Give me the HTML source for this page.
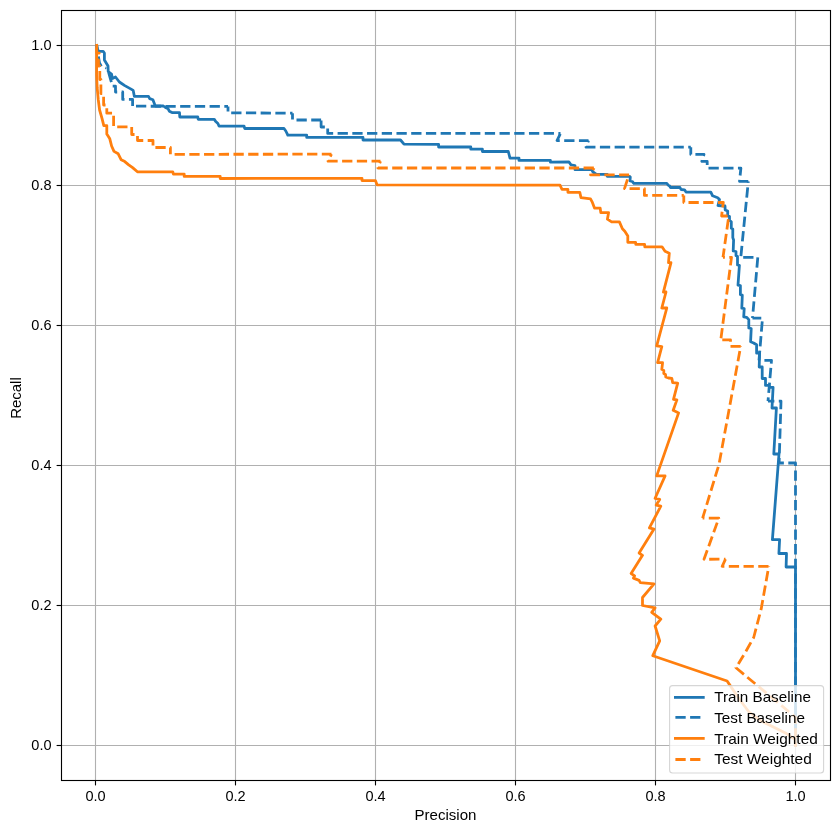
<!DOCTYPE html>
<html><head><meta charset="utf-8"><style>html,body{margin:0;padding:0;background:#fff;overflow:hidden}svg{display:block;will-change:transform}</style></head>
<body><svg width="839" height="833" viewBox="0 0 839 833"><rect x="0" y="0" width="839" height="833" fill="#fff"/>
<line x1="95.5" y1="10.5" x2="95.5" y2="780.5" stroke="#b0b0b0" stroke-width="1.11"/>
<line x1="61.5" y1="745.5" x2="830.5" y2="745.5" stroke="#b0b0b0" stroke-width="1.11"/>
<line x1="235.5" y1="10.5" x2="235.5" y2="780.5" stroke="#b0b0b0" stroke-width="1.11"/>
<line x1="61.5" y1="605.5" x2="830.5" y2="605.5" stroke="#b0b0b0" stroke-width="1.11"/>
<line x1="375.5" y1="10.5" x2="375.5" y2="780.5" stroke="#b0b0b0" stroke-width="1.11"/>
<line x1="61.5" y1="465.5" x2="830.5" y2="465.5" stroke="#b0b0b0" stroke-width="1.11"/>
<line x1="515.5" y1="10.5" x2="515.5" y2="780.5" stroke="#b0b0b0" stroke-width="1.11"/>
<line x1="61.5" y1="325.49999999999994" x2="830.5" y2="325.49999999999994" stroke="#b0b0b0" stroke-width="1.11"/>
<line x1="655.5" y1="10.5" x2="655.5" y2="780.5" stroke="#b0b0b0" stroke-width="1.11"/>
<line x1="61.5" y1="185.5" x2="830.5" y2="185.5" stroke="#b0b0b0" stroke-width="1.11"/>
<line x1="795.5" y1="10.5" x2="795.5" y2="780.5" stroke="#b0b0b0" stroke-width="1.11"/>
<line x1="61.5" y1="45.5" x2="830.5" y2="45.5" stroke="#b0b0b0" stroke-width="1.11"/>
<path d="M96.7,45.5 L97.8,50.0 L99.0,51.4 L103.2,51.4 L104.4,53.0 L104.4,60.0 L106.2,63.0 L108.0,66.0 L108.2,71.5 L111.5,74.0 L112.5,78.5 L115.5,77.0 L119.4,82.0 L124.8,85.6 L130.2,88.6 L133.2,90.4 L134.4,96.4 L148.5,96.4 L149.7,98.6 L152.9,99.8 L154.9,105.0 L155.5,106.0 L163.4,106.0 L165.4,107.5 L168.0,108.6 L169.3,111.2 L172.0,112.6 L179.5,112.6 L179.8,117.0 L197.8,117.0 L198.2,119.3 L214.3,119.3 L215.5,121.3 L217.9,123.5 L219.1,126.2 L244.1,126.2 L244.7,128.5 L284.0,128.5 L285.8,131.0 L287.6,134.6 L287.8,135.2 L306.7,135.2 L306.7,137.4 L363.0,137.4 L363.0,140.0 L400.5,140.0 L404.0,144.2 L438.6,144.3 L438.6,147.0 L470.8,147.0 L470.8,149.2 L482.4,149.2 L482.4,151.5 L508.3,151.5 L510.0,158.1 L519.0,158.1 L519.0,160.4 L550.4,160.4 L550.4,162.2 L569.0,162.0 L571.0,164.9 L575.0,165.5 L575.0,169.7 L591.7,169.7 L593.0,172.0 L596.5,174.4 L607.2,174.4 L607.2,176.3 L629.5,176.3 L630.3,177.0 L630.0,181.0 L632.3,181.5 L633.8,183.3 L666.8,183.4 L668.5,185.5 L669.5,185.8 L670.5,187.5 L680.0,187.5 L681.0,189.5 L684.5,189.8 L686.0,192.1 L710.8,192.1 L712.6,195.8 L717.7,197.7 L719.5,199.5 L718.0,205.5 L725.0,206.0 L725.2,210.0 L727.7,211.0 L727.7,216.0 L729.5,216.3 L729.5,220.3 L731.3,221.8 L731.3,228.3 L732.8,229.0 L732.8,237.6 L733.6,240.0 L733.2,251.0 L736.0,251.5 L736.0,255.8 L737.5,256.3 L737.5,265.0 L739.4,265.4 L738.0,285.1 L740.4,285.6 L740.4,294.7 L742.3,295.2 L741.8,308.1 L744.2,308.6 L743.7,316.8 L746.6,317.3 L748.8,319.6 L748.8,328.0 L751.2,328.6 L750.6,341.8 L753.6,343.0 L756.6,344.8 L756.6,353.2 L759.6,352.6 L759.2,367.0 L762.2,367.0 L762.2,378.5 L765.5,378.5 L765.5,385.4 L769.1,385.4 L769.5,387.4 L773.1,387.4 L772.0,408.0 L776.4,408.0 L773.8,454.0 L779.0,454.0 L772.4,539.6 L779.6,539.6 L778.9,553.5 L786.5,553.5 L786.1,567.0 L795.5,567.0 L795.5,745.5" fill="none" stroke="#1f77b4" stroke-width="2.78" stroke-linejoin="round" stroke-linecap="square"/>
<path d="M96.7,45.5 L97.3,50.0 L99.5,63.0 L101.5,66.5 L106.0,68.0" fill="none" stroke="#1f77b4" stroke-width="2.78" stroke-linejoin="round" stroke-linecap="butt" stroke-dasharray="10.28 4.44" stroke-dashoffset="3.59"/>
<path d="M106.0,68.0 L108.5,72.0 L110.5,79.0 L112.5,86.2 L115.5,86.2 L115.5,92.0 L122.7,92.0 L122.7,99.4 L132.6,99.4 L132.6,106.2" fill="none" stroke="#1f77b4" stroke-width="2.78" stroke-linejoin="round" stroke-linecap="butt" stroke-dasharray="10.28 4.44" stroke-dashoffset="9.77"/>
<path d="M132.6,106.2 L228.0,106.4" fill="none" stroke="#1f77b4" stroke-width="2.78" stroke-linejoin="round" stroke-linecap="butt" stroke-dasharray="10.28 4.44" stroke-dashoffset="11.32"/>
<path d="M228.0,106.4 L228.0,112.8 L292.5,113.2" fill="none" stroke="#1f77b4" stroke-width="2.78" stroke-linejoin="round" stroke-linecap="butt" stroke-dasharray="10.28 4.44" stroke-dashoffset="5.12"/>
<path d="M292.5,113.2 L292.5,120.0 L321.1,120.0" fill="none" stroke="#1f77b4" stroke-width="2.78" stroke-linejoin="round" stroke-linecap="butt" stroke-dasharray="10.28 4.44" stroke-dashoffset="3.92"/>
<path d="M321.1,120.0 L321.1,127.0 L327.7,127.0 L327.7,133.4 L560.5,133.4" fill="none" stroke="#1f77b4" stroke-width="2.78" stroke-linejoin="round" stroke-linecap="butt" stroke-dasharray="10.28 4.44" stroke-dashoffset="14.26"/>
<path d="M560.5,133.4 L557.0,140.6 L588.5,140.6" fill="none" stroke="#1f77b4" stroke-width="2.78" stroke-linejoin="round" stroke-linecap="butt" stroke-dasharray="10.28 4.44" stroke-dashoffset="14.23"/>
<path d="M588.5,140.6 L586.0,147.2 L690.8,147.2" fill="none" stroke="#1f77b4" stroke-width="2.78" stroke-linejoin="round" stroke-linecap="butt" stroke-dasharray="10.28 4.44" stroke-dashoffset="8.48"/>
<path d="M690.8,147.2 L690.8,154.4 L704.0,154.4 L701.8,161.4 L707.2,161.4 L707.2,168.2 L740.9,168.2 L739.5,181.4 L748.3,181.4" fill="none" stroke="#1f77b4" stroke-width="2.78" stroke-linejoin="round" stroke-linecap="butt" stroke-dasharray="10.28 4.44" stroke-dashoffset="2.92"/>
<path d="M748.3,181.4 L740.8,257.3" fill="none" stroke="#1f77b4" stroke-width="2.78" stroke-linejoin="round" stroke-linecap="butt" stroke-dasharray="10.28 4.44" stroke-dashoffset="8.80"/>
<path d="M740.8,257.3 L757.8,257.3 L752.5,318.2" fill="none" stroke="#1f77b4" stroke-width="2.78" stroke-linejoin="round" stroke-linecap="butt" stroke-dasharray="10.28 4.44" stroke-dashoffset="12.32"/>
<path d="M752.5,318.2 L762.5,318.2 L759.0,360.4" fill="none" stroke="#1f77b4" stroke-width="2.78" stroke-linejoin="round" stroke-linecap="butt" stroke-dasharray="10.28 4.44" stroke-dashoffset="1.51"/>
<path d="M759.0,360.4 L771.5,360.4 L768.0,401.2" fill="none" stroke="#1f77b4" stroke-width="2.78" stroke-linejoin="round" stroke-linecap="butt" stroke-dasharray="10.28 4.44" stroke-dashoffset="9.32"/>
<path d="M768.0,401.2 L781.0,401.2 L779.1,463.0" fill="none" stroke="#1f77b4" stroke-width="2.78" stroke-linejoin="round" stroke-linecap="butt" stroke-dasharray="10.28 4.44" stroke-dashoffset="3.92"/>
<path d="M779.1,463.0 L795.5,463.0 L795.5,745.5" fill="none" stroke="#1f77b4" stroke-width="2.78" stroke-linejoin="round" stroke-linecap="butt" stroke-dasharray="10.28 4.44" stroke-dashoffset="5.52"/>
<path d="M96.7,45.5 L96.6,75.0 L97.2,88.0 L98.3,100.0 L99.6,110.0 L102.0,118.4 L103.8,125.6 L106.8,125.6 L106.8,134.0 L109.8,138.8 L111.6,146.0 L114.0,151.4 L118.2,153.8 L121.2,159.8 L124.8,161.6 L128.4,164.6 L132.6,167.6 L137.4,171.8 L172.8,171.8 L173.4,174.1 L184.2,174.1 L184.2,176.4 L220.2,176.4 L220.2,178.5 L362.0,178.3 L362.0,180.6 L375.5,180.6 L377.0,184.8 L560.0,185.2 L562.0,189.3 L567.9,189.3 L567.9,192.3 L579.8,192.3 L581.0,197.7 L590.5,198.9 L592.4,202.4 L594.2,207.2 L594.5,208.2 L600.2,208.2 L600.8,212.6 L608.6,212.6 L607.4,219.2 L611.6,221.9 L619.4,221.9 L622.4,228.8 L624.8,231.2 L627.8,236.0 L627.8,242.3 L635.6,242.3 L635.8,244.4 L644.6,244.4 L644.8,246.8 L662.0,246.8 L665.0,251.3 L669.3,253.2 L668.5,262.7 L671.0,262.7 L663.4,292.1 L666.0,292.0 L661.8,308.0 L666.8,308.0 L656.7,345.9 L661.8,346.7 L657.6,362.7 L662.6,362.7 L661.8,369.4 L663.8,370.5 L663.8,373.5 L665.5,374.5 L665.8,377.0 L668.5,378.0 L671.8,378.4 L672.7,382.6 L677.7,383.1 L673.5,399.4 L676.9,399.9 L673.2,410.3 L678.6,412.9 L656.7,475.9 L665.1,475.9 L655.1,498.3 L659.7,499.4 L656.2,505.1 L660.8,506.2 L649.4,527.9 L654.0,529.1 L639.1,553.0 L642.5,555.3 L631.1,573.5 L634.6,575.8 L633.4,578.1 L639.1,580.4 L640.3,582.7 L654.0,583.8 L642.5,597.5 L642.5,605.5 L655.1,607.8 L651.7,612.3 L660.8,619.2 L655.1,626.0 L659.7,640.8 L652.8,655.7 L727.1,681.0 L729.2,684.1 L740.3,700.5 L749.0,712.0 L760.5,720.6 L774.9,727.8 L786.4,733.6 L795.0,739.4 L795.5,745.5" fill="none" stroke="#ff7f0e" stroke-width="2.78" stroke-linejoin="round" stroke-linecap="square"/>
<path d="M96.7,45.5 L96.7,53.2 L99.2,53.2 L97.5,53.2 L97.5,60.0 L98.5,60.0 L98.5,66.0 L99.8,66.0 L99.8,79.5 L100.9,79.5 L100.9,93.6 L103.6,93.6 L103.6,105.0 L106.8,105.0 L106.8,113.2 L113.6,113.2" fill="none" stroke="#ff7f0e" stroke-width="2.78" stroke-linejoin="round" stroke-linecap="butt" stroke-dasharray="10.28 4.44" stroke-dashoffset="12.16"/>
<path d="M113.6,113.2 L113.6,126.8 L131.7,126.8 L131.7,134.5 L137.5,134.5 L137.5,140.5 L153.0,140.5 L153.0,147.5 L170.4,147.5 L170.4,154.3" fill="none" stroke="#ff7f0e" stroke-width="2.78" stroke-linejoin="round" stroke-linecap="butt" stroke-dasharray="10.28 4.44" stroke-dashoffset="12.22"/>
<path d="M170.4,154.3 L331.5,154.2" fill="none" stroke="#ff7f0e" stroke-width="2.78" stroke-linejoin="round" stroke-linecap="butt" stroke-dasharray="10.28 4.44" stroke-dashoffset="10.52"/>
<path d="M331.5,154.2 L328.0,161.2 L380.5,161.2" fill="none" stroke="#ff7f0e" stroke-width="2.78" stroke-linejoin="round" stroke-linecap="butt" stroke-dasharray="10.28 4.44" stroke-dashoffset="7.51"/>
<path d="M380.5,161.2 L378.0,168.0 L594.0,168.0" fill="none" stroke="#ff7f0e" stroke-width="2.78" stroke-linejoin="round" stroke-linecap="butt" stroke-dasharray="10.28 4.44" stroke-dashoffset="8.00"/>
<path d="M594.0,168.0 L590.5,174.8 L629.0,174.8" fill="none" stroke="#ff7f0e" stroke-width="2.78" stroke-linejoin="round" stroke-linecap="butt" stroke-dasharray="10.28 4.44" stroke-dashoffset="7.89"/>
<path d="M629.0,174.8 L624.5,188.6 L644.4,188.6 L644.4,195.4 L683.8,195.4" fill="none" stroke="#ff7f0e" stroke-width="2.78" stroke-linejoin="round" stroke-linecap="butt" stroke-dasharray="10.28 4.44" stroke-dashoffset="9.86"/>
<path d="M683.8,195.4 L683.8,202.5 L723.3,202.5 L721.6,216.0 L728.8,216.0" fill="none" stroke="#ff7f0e" stroke-width="2.78" stroke-linejoin="round" stroke-linecap="butt" stroke-dasharray="10.28 4.44" stroke-dashoffset="2.92"/>
<path d="M728.8,216.0 L723.0,257.3" fill="none" stroke="#ff7f0e" stroke-width="2.78" stroke-linejoin="round" stroke-linecap="butt" stroke-dasharray="10.28 4.44" stroke-dashoffset="11.40"/>
<path d="M723.0,257.3 L731.5,257.3 L720.8,339.8" fill="none" stroke="#ff7f0e" stroke-width="2.78" stroke-linejoin="round" stroke-linecap="butt" stroke-dasharray="10.28 4.44" stroke-dashoffset="8.42"/>
<path d="M720.8,339.8 L730.5,339.8 L730.5,346.3 L740.7,346.3" fill="none" stroke="#ff7f0e" stroke-width="2.78" stroke-linejoin="round" stroke-linecap="butt" stroke-dasharray="10.28 4.44" stroke-dashoffset="13.24"/>
<path d="M740.7,346.3 L719.0,464.4 L702.6,518.2" fill="none" stroke="#ff7f0e" stroke-width="2.78" stroke-linejoin="round" stroke-linecap="butt" stroke-dasharray="10.28 4.44" stroke-dashoffset="9.83"/>
<path d="M702.6,518.2 L718.8,518.2 L704.0,559.3 L725.5,559.1" fill="none" stroke="#ff7f0e" stroke-width="2.78" stroke-linejoin="round" stroke-linecap="butt" stroke-dasharray="10.28 4.44" stroke-dashoffset="8.52"/>
<path d="M725.5,559.1 L722.2,566.3 L768.8,566.3" fill="none" stroke="#ff7f0e" stroke-width="2.78" stroke-linejoin="round" stroke-linecap="butt" stroke-dasharray="10.28 4.44" stroke-dashoffset="0.20"/>
<path d="M768.8,566.3 L761.2,608.9 L753.7,637.5 L746.1,651.0 L736.0,667.8 L795.5,717.2 L795.5,745.5" fill="none" stroke="#ff7f0e" stroke-width="2.78" stroke-linejoin="round" stroke-linecap="butt" stroke-dasharray="10.28 4.44" stroke-dashoffset="9.83"/>
<rect x="61.5" y="10.5" width="769" height="770" fill="none" stroke="#000" stroke-width="1.11"/>
<line x1="95.5" y1="780.5" x2="95.5" y2="785.4" stroke="#000" stroke-width="1.11"/>
<line x1="56.6" y1="745.5" x2="61.5" y2="745.5" stroke="#000" stroke-width="1.11"/>
<line x1="235.5" y1="780.5" x2="235.5" y2="785.4" stroke="#000" stroke-width="1.11"/>
<line x1="56.6" y1="605.5" x2="61.5" y2="605.5" stroke="#000" stroke-width="1.11"/>
<line x1="375.5" y1="780.5" x2="375.5" y2="785.4" stroke="#000" stroke-width="1.11"/>
<line x1="56.6" y1="465.5" x2="61.5" y2="465.5" stroke="#000" stroke-width="1.11"/>
<line x1="515.5" y1="780.5" x2="515.5" y2="785.4" stroke="#000" stroke-width="1.11"/>
<line x1="56.6" y1="325.49999999999994" x2="61.5" y2="325.49999999999994" stroke="#000" stroke-width="1.11"/>
<line x1="655.5" y1="780.5" x2="655.5" y2="785.4" stroke="#000" stroke-width="1.11"/>
<line x1="56.6" y1="185.5" x2="61.5" y2="185.5" stroke="#000" stroke-width="1.11"/>
<line x1="795.5" y1="780.5" x2="795.5" y2="785.4" stroke="#000" stroke-width="1.11"/>
<line x1="56.6" y1="45.5" x2="61.5" y2="45.5" stroke="#000" stroke-width="1.11"/>
<text x="95.5" y="801.0" font-family="&quot;Liberation Sans&quot;, sans-serif" font-size="13.9" text-anchor="middle" textLength="20.2" lengthAdjust="spacingAndGlyphs">0.0</text>
<text x="51.5" y="750.0" font-family="&quot;Liberation Sans&quot;, sans-serif" font-size="13.9" text-anchor="end" textLength="20.2" lengthAdjust="spacingAndGlyphs">0.0</text>
<text x="235.5" y="801.0" font-family="&quot;Liberation Sans&quot;, sans-serif" font-size="13.9" text-anchor="middle" textLength="20.2" lengthAdjust="spacingAndGlyphs">0.2</text>
<text x="51.5" y="610.0" font-family="&quot;Liberation Sans&quot;, sans-serif" font-size="13.9" text-anchor="end" textLength="20.2" lengthAdjust="spacingAndGlyphs">0.2</text>
<text x="375.5" y="801.0" font-family="&quot;Liberation Sans&quot;, sans-serif" font-size="13.9" text-anchor="middle" textLength="20.2" lengthAdjust="spacingAndGlyphs">0.4</text>
<text x="51.5" y="470.0" font-family="&quot;Liberation Sans&quot;, sans-serif" font-size="13.9" text-anchor="end" textLength="20.2" lengthAdjust="spacingAndGlyphs">0.4</text>
<text x="515.5" y="801.0" font-family="&quot;Liberation Sans&quot;, sans-serif" font-size="13.9" text-anchor="middle" textLength="20.2" lengthAdjust="spacingAndGlyphs">0.6</text>
<text x="51.5" y="329.99999999999994" font-family="&quot;Liberation Sans&quot;, sans-serif" font-size="13.9" text-anchor="end" textLength="20.2" lengthAdjust="spacingAndGlyphs">0.6</text>
<text x="655.5" y="801.0" font-family="&quot;Liberation Sans&quot;, sans-serif" font-size="13.9" text-anchor="middle" textLength="20.2" lengthAdjust="spacingAndGlyphs">0.8</text>
<text x="51.5" y="190.0" font-family="&quot;Liberation Sans&quot;, sans-serif" font-size="13.9" text-anchor="end" textLength="20.2" lengthAdjust="spacingAndGlyphs">0.8</text>
<text x="795.5" y="801.0" font-family="&quot;Liberation Sans&quot;, sans-serif" font-size="13.9" text-anchor="middle" textLength="20.2" lengthAdjust="spacingAndGlyphs">1.0</text>
<text x="51.5" y="50.0" font-family="&quot;Liberation Sans&quot;, sans-serif" font-size="13.9" text-anchor="end" textLength="20.2" lengthAdjust="spacingAndGlyphs">1.0</text>
<text x="445.5" y="819.8" font-family="&quot;Liberation Sans&quot;, sans-serif" font-size="13.9" text-anchor="middle" textLength="62.0" lengthAdjust="spacingAndGlyphs">Precision</text>
<text transform="translate(21,398) rotate(-90)" x="0" y="0" font-family="&quot;Liberation Sans&quot;, sans-serif" font-size="13.9" text-anchor="middle" textLength="41.5" lengthAdjust="spacingAndGlyphs">Recall</text>
<rect x="669.6" y="685.6" width="154" height="87.4" rx="3" ry="3" fill="#fff" fill-opacity="0.8" stroke="#ccc" stroke-opacity="0.8" stroke-width="1.11"/>
<line x1="675.4" y1="697.4" x2="703.3" y2="697.4" stroke="#1f77b4" stroke-width="2.78" stroke-linecap="square"/>
<text x="714.2" y="701.9" font-family="&quot;Liberation Sans&quot;, sans-serif" font-size="13.9" textLength="96.7" lengthAdjust="spacingAndGlyphs">Train Baseline</text>
<line x1="675.4" y1="717.4" x2="703.3" y2="717.4" stroke="#1f77b4" stroke-width="2.78" stroke-dasharray="10.28 4.44"/>
<text x="714.2" y="722.9" font-family="&quot;Liberation Sans&quot;, sans-serif" font-size="13.9" textLength="90.7" lengthAdjust="spacingAndGlyphs">Test Baseline</text>
<line x1="675.4" y1="738.4" x2="703.3" y2="738.4" stroke="#ff7f0e" stroke-width="2.78" stroke-linecap="square"/>
<text x="714.2" y="743.7" font-family="&quot;Liberation Sans&quot;, sans-serif" font-size="13.9" textLength="103.6" lengthAdjust="spacingAndGlyphs">Train Weighted</text>
<line x1="675.4" y1="759.5" x2="703.3" y2="759.5" stroke="#ff7f0e" stroke-width="2.78" stroke-dasharray="10.28 4.44"/>
<text x="714.2" y="764.4" font-family="&quot;Liberation Sans&quot;, sans-serif" font-size="13.9" textLength="97.6" lengthAdjust="spacingAndGlyphs">Test Weighted</text></svg></body></html>
